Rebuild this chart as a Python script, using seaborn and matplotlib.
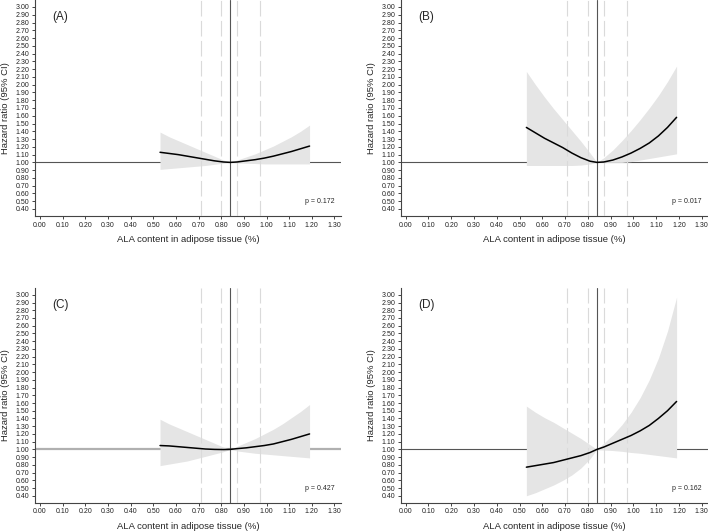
import numpy as np
import pandas as pd
import matplotlib
matplotlib.use("Agg")
import matplotlib.pyplot as plt
import seaborn as sns

## values: HR curve + 95% CI for each panel
ala = [0.53, 0.57, 0.61, 0.65, 0.69, 0.73, 0.77, 0.81, 0.84,
       0.87, 0.91, 0.95, 0.99, 1.03, 1.07, 1.11, 1.15, 1.19]

hr_a = [1.13, 1.115, 1.10, 1.08, 1.06, 1.04, 1.02, 1.005, 1.00,
        1.005, 1.02, 1.035, 1.055, 1.08, 1.11, 1.14, 1.175, 1.21]
lo_a = [0.91, 0.92, 0.93, 0.94, 0.95, 0.96, 0.975, 0.99, 1.00,
        0.995, 0.99, 0.985, 0.98, 0.98, 0.98, 0.98, 0.98, 0.98]
hi_a = [1.39, 1.33, 1.28, 1.23, 1.18, 1.13, 1.08, 1.03, 1.00,
        1.03, 1.07, 1.11, 1.16, 1.21, 1.27, 1.33, 1.40, 1.48]

hr_b = [1.45, 1.38, 1.31, 1.25, 1.19, 1.12, 1.06, 1.015, 1.00,
        1.005, 1.03, 1.07, 1.12, 1.18, 1.25, 1.34, 1.45, 1.58]
lo_b = [0.96, 0.96, 0.96, 0.96, 0.96, 0.96, 0.965, 0.98, 1.00,
        1.00, 1.00, 1.00, 1.01, 1.03, 1.05, 1.07, 1.09, 1.11]
hi_b = [2.17, 2.00, 1.84, 1.69, 1.55, 1.41, 1.27, 1.12, 1.00,
        1.06, 1.16, 1.28, 1.41, 1.55, 1.70, 1.86, 2.04, 2.24]

hr_c = [1.05, 1.045, 1.035, 1.025, 1.015, 1.005, 1.00, 0.998, 1.00,
        1.01, 1.02, 1.035, 1.05, 1.07, 1.10, 1.13, 1.165, 1.20]
lo_c = [0.79, 0.81, 0.83, 0.85, 0.88, 0.91, 0.94, 0.97, 1.00,
        0.98, 0.965, 0.95, 0.94, 0.93, 0.92, 0.91, 0.90, 0.89]
hi_c = [1.39, 1.33, 1.28, 1.23, 1.18, 1.13, 1.08, 1.03, 1.00,
        1.04, 1.09, 1.14, 1.20, 1.26, 1.33, 1.41, 1.49, 1.58]

hr_d = [0.77, 0.79, 0.81, 0.83, 0.86, 0.89, 0.92, 0.96, 1.00,
        1.03, 1.08, 1.13, 1.18, 1.24, 1.31, 1.40, 1.50, 1.62]
lo_d = [0.40, 0.44, 0.49, 0.54, 0.60, 0.67, 0.76, 0.88, 1.00,
        0.995, 0.985, 0.975, 0.96, 0.95, 0.935, 0.92, 0.905, 0.89]
hi_d = [1.56, 1.48, 1.41, 1.35, 1.28, 1.21, 1.14, 1.06, 1.00,
        1.08, 1.19, 1.32, 1.48, 1.67, 1.90, 2.18, 2.53, 2.97]

panel_labels = ["(A)", "(B)", "(C)", "(D)"]
p_values = ["p = 0.172", "p = 0.017", "p = 0.427", "p = 0.162"]

ref_x = 0.84                         # reference (median) ALA
pct_x = [0.71, 0.80, 0.87, 0.97]     # dashed percentile lines

x_ticks = np.round(np.arange(0, 1.31, 0.1), 2)
y_ticks = np.round(np.arange(0.4, 3.01, 0.1), 2)

sns.set_style("ticks")
plt.rcParams['font.family'] = ['Liberation Sans', 'DejaVu Sans']

fig = plt.figure(figsize=(7.08, 5.32), dpi=100)
positions = [[0.0494, 0.594, 0.432, 0.406],
             [0.566, 0.594, 0.434, 0.406],
             [0.0494, 0.055, 0.432, 0.404],
             [0.566, 0.055, 0.434, 0.404]]

panels = [(hr_a, lo_a, hi_a), (hr_b, lo_b, hi_b), (hr_c, lo_c, hi_c), (hr_d, lo_d, hi_d)]

axis_col = "#444444"

for i, (hr, lo, hi) in enumerate(panels):
    ax = fig.add_axes(positions[i])
    df = pd.DataFrame({"ala": ala, "hr": hr, "lo": lo, "hi": hi})

    # reference line at HR = 1 (panel C drawn lighter / thicker)
    if i == 2:
        ax.axhline(1.0, color="#b0b0b0", lw=1.6, zorder=1)
    else:
        ax.axhline(1.0, color="#555555", lw=0.8, zorder=1)

    ax.fill_between(df["ala"], df["lo"], df["hi"], color="#e5e5e5", lw=0, zorder=2)

    for xv in pct_x:
        ax.axvline(xv, color="#dadada", lw=0.8, dashes=(14, 4), zorder=3)
    ax.axvline(ref_x, color="#555555", lw=0.8, zorder=4)

    sns.lineplot(data=df, x="ala", y="hr", color="black", lw=1.1, ax=ax, zorder=5)

    ax.set_xlim(-0.022, 1.328)
    ax.set_ylim(0.31, 3.09)
    ax.set_xticks(x_ticks)
    ax.set_xticklabels([f"{v:.2f}" for v in x_ticks])
    ax.set_yticks(y_ticks)
    ax.set_yticklabels([f"{v:.2f}" for v in y_ticks])
    ax.tick_params(axis="both", labelsize=5, length=2.5, width=0.7,
                   color=axis_col, labelcolor="#222222", pad=1.5)

    sns.despine(ax=ax)
    for s in ["left", "bottom"]:
        ax.spines[s].set_color(axis_col)
        ax.spines[s].set_linewidth(0.8)

    ax.set_xlabel("ALA content in adipose tissue (%)", fontsize=6.8, labelpad=5)
    ax.set_ylabel("Hazard ratio (95% CI)", fontsize=6.8, labelpad=4)

    ax.text(0.055, 2.87, panel_labels[i], fontsize=8.5, ha="left", va="center")
    ax.text(1.30, 0.50, p_values[i], fontsize=5, ha="right", va="center")

plt.savefig("out.png", dpi=100)
